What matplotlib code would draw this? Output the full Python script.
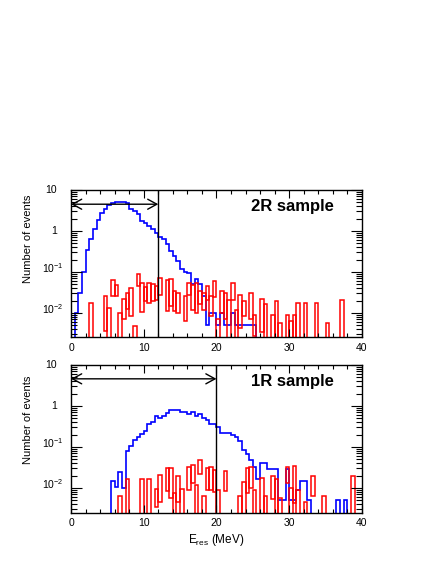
import numpy as np
import matplotlib
matplotlib.use('Agg')
import matplotlib.pyplot as plt
import matplotlib.transforms as mtransforms
from matplotlib.patches import Rectangle
from matplotlib.ticker import FixedLocator, LogLocator, MultipleLocator, NullFormatter

plt.rcParams['font.family'] = ['Liberation Sans', 'DejaVu Sans']
plt.rcParams['mathtext.fontset'] = 'custom'
plt.rcParams['mathtext.rm'] = 'Liberation Sans'
plt.rcParams['mathtext.it'] = 'Liberation Sans:italic'
plt.rcParams['mathtext.default'] = 'regular'

# 0.5 MeV bins from 0 to 40 MeV
bin_edges = np.arange(0, 40.5, 0.5)

# 2R sample: signal (blue) and background band edges (red)
blue_2r = [0, 0.01, 0.03, 0.1, 0.35, 0.63, 1.1, 1.9, 2.8, 3.5,
           4.2, 4.7, 5.0, 5.1, 5.0, 4.9, 3.5, 3.0, 2.6, 1.8,
           1.6, 1.35, 1.1, 0.9, 0.73, 0.62, 0.47, 0.33, 0.25, 0.18,
           0.12, 0.1, 0.096, 0.05, 0.068, 0.05, 0.026, 0.005, 0.01, 0.01,
           0.005, 0.01, 0.005, 0.005, 0.01, 0.005, 0.005, 0.005, 0.005, 0.005,
           0.005, 0, 0, 0, 0, 0, 0, 0, 0, 0,
           0, 0, 0, 0, 0, 0, 0, 0, 0, 0,
           0, 0, 0, 0, 0, 0, 0, 0, 0, 0]
red_hi_2r = [0, 0, 0, 0, 0, 0.017, 0, 0, 0, 0.026,
             0.013, 0.063, 0.049, 0.01, 0.022, 0.031, 0.041, 0.0049, 0.089, 0.054,
             0.043, 0.054, 0.052, 0.045, 0.072, 0, 0.063, 0.068, 0.034, 0.031,
             0, 0.026, 0.054, 0.049, 0.054, 0.034, 0.031, 0.046, 0.026, 0.059,
             0.0069, 0.034, 0.031, 0.021, 0.054, 0.012, 0.028, 0.019, 0, 0.031,
             0.009, 0, 0.022, 0.016, 0, 0.009, 0.020, 0.0057, 0, 0.009,
             0.0063, 0.009, 0.017, 0, 0.017, 0, 0, 0.017, 0, 0,
             0.0057, 0, 0, 0, 0.021, 0, 0, 0, 0, 0]
red_lo_2r = [0, 0, 0, 0, 0, 0, 0, 0, 0, 0.0036,
             0, 0.026, 0.026, 0, 0.007, 0.0126, 0.0083, 0, 0.045, 0.0105,
             0.019, 0.017, 0.019, 0.021, 0.028, 0, 0.011, 0.0145, 0.011, 0.010,
             0, 0.0063, 0.027, 0.012, 0.010, 0.016, 0.012, 0.021, 0.0083, 0.024,
             0, 0.010, 0.0069, 0, 0.021, 0, 0.0043, 0.0083, 0, 0.0069,
             0.0027, 0, 0.0035, 0, 0, 0, 0, 0, 0, 0,
             0, 0, 0, 0, 0, 0, 0, 0, 0, 0,
             0, 0, 0, 0, 0, 0, 0, 0, 0, 0]

# 1R sample
blue_1r = [0, 0, 0, 0, 0, 0, 0, 0, 0, 0,
           0, 0.015, 0.0105, 0.025, 0.01, 0.078, 0.107, 0.145, 0.175, 0.21,
           0.25, 0.37, 0.41, 0.56, 0.51, 0.58, 0.68, 0.78, 0.78, 0.78,
           0.72, 0.72, 0.64, 0.72, 0.58, 0.65, 0.51, 0.45, 0.37, 0.37,
           0.3, 0.22, 0.22, 0.22, 0.2, 0.175, 0.14, 0.086, 0.068, 0.049,
           0.032, 0.016, 0.04, 0.04, 0.029, 0.029, 0.029, 0.005, 0.005, 0.029,
           0.005, 0.005, 0.009, 0.0144, 0.0144, 0.005, 0, 0, 0, 0,
           0, 0, 0, 0.005, 0, 0.005, 0, 0, 0, 0]
red_hi_1r = [0, 0, 0, 0, 0, 0, 0, 0, 0, 0,
             0, 0, 0, 0.0064, 0, 0.016, 0, 0, 0, 0.016,
             0, 0.016, 0, 0.0093, 0.021, 0, 0.030, 0.030, 0.0075, 0.019,
             0.0095, 0, 0.033, 0.036, 0.012, 0.049, 0.0062, 0.030, 0.032, 0.028,
             0.0089, 0, 0.026, 0, 0, 0, 0.0062, 0.014, 0.030, 0.032,
             0.0089, 0, 0.017, 0.0062, 0, 0.019, 0.016, 0.0058, 0, 0.033,
             0.010, 0.035, 0.009, 0, 0.0045, 0, 0.019, 0, 0, 0.0062,
             0, 0, 0, 0, 0, 0, 0, 0.019, 0, 0]
red_lo_1r = [0, 0, 0, 0, 0, 0, 0, 0, 0, 0,
             0, 0, 0, 0, 0, 0, 0, 0, 0, 0,
             0, 0, 0, 0.0035, 0.0046, 0, 0.0085, 0.0055, 0, 0.0045,
             0, 0, 0.0089, 0.013, 0, 0.022, 0, 0.0089, 0.0089, 0.008,
             0, 0, 0.0085, 0, 0, 0, 0, 0, 0.0075, 0.010,
             0, 0, 0, 0, 0, 0.0053, 0, 0, 0, 0.013,
             0, 0.0042, 0, 0, 0, 0, 0.0064, 0, 0, 0,
             0, 0, 0, 0, 0, 0, 0, 0, 0, 0]

cut_2r, cut_1r = 12, 20
arrow_2r, arrow_1r = 4.5, 4.6
ytick_vals = [0.01, 0.1, 1, 10]
ytick_text = ['$10^{-2}$', '$10^{-1}$', '1', '10']

fig = plt.figure(figsize=(4.36, 5.64), dpi=100)
ax_top = fig.add_axes([0.163, 0.4016, 0.667, 0.2615])
ax_bot = fig.add_axes([0.163, 0.0913, 0.667, 0.2615])


def draw_panel(ax, blue, red_lo, red_hi, cut, arrow_y, label, ylab_y):
    blue = np.array(blue, dtype=float)
    # empty bins drop below the visible range
    ax.stairs(np.where(blue > 0, blue, 1e-6), bin_edges, color='blue', lw=1.2, baseline=None)
    for i, (lo, hi) in enumerate(zip(red_lo, red_hi)):
        if hi <= 0:
            continue
        lo = lo if lo > 0 else 1e-6
        ax.add_patch(Rectangle((bin_edges[i], lo), 0.5, hi - lo, fill=False,
                               ec='red', lw=1.1))
    ax.set_yscale('log')
    ax.set_xlim(0, 40)
    ax.set_ylim(2.5e-3, 10)
    ax.axvline(cut, color='black', lw=1.0)
    ax.annotate('', xy=(0, arrow_y), xytext=(cut, arrow_y),
                arrowprops=dict(arrowstyle='<->,head_length=0.55,head_width=0.3',
                                color='black', lw=1.0, shrinkA=0, shrinkB=0,
                                mutation_scale=12))
    ax.xaxis.set_major_locator(MultipleLocator(10))
    ax.xaxis.set_minor_locator(MultipleLocator(2))
    ax.yaxis.set_major_locator(FixedLocator(ytick_vals))
    ax.yaxis.set_major_formatter(NullFormatter())
    ax.yaxis.set_minor_locator(LogLocator(base=10, subs=np.arange(2, 10)))
    ax.yaxis.set_minor_formatter(NullFormatter())
    ax.tick_params(which='both', direction='in', top=True, right=True, width=0.8)
    ax.tick_params(axis='x', which='major', length=6, labelsize=7.5, pad=4)
    ax.tick_params(axis='x', which='minor', length=3)
    ax.tick_params(axis='y', which='major', length=8)
    ax.tick_params(axis='y', which='minor', length=4)
    for s in ax.spines.values():
        s.set_linewidth(1.0)
    # y tick labels, ROOT style: exponent labels sit a little above their tick
    ytrans = ax.get_yaxis_transform()
    for v, t in zip(ytick_vals, ytick_text):
        if '^' in t:
            tr = ytrans + mtransforms.ScaledTranslation(0, 4 / 100, fig.dpi_scale_trans)
            ax.text(-0.027, v, t, transform=tr, ha='right', va='center', fontsize=7.5)
        else:
            ax.text(-0.048, v, t, transform=ytrans, ha='right', va='center', fontsize=7.5)
    ax.text(0.761, 0.885, label, transform=ax.transAxes, ha='center', va='center',
            fontsize=12, fontweight='bold')
    ax.text(-0.148, ylab_y, 'Number of events', transform=ax.transAxes, rotation=90,
            ha='center', va='top', fontsize=8)


draw_panel(ax_top, blue_2r, red_lo_2r, red_hi_2r, cut_2r, arrow_2r, '2R sample', 0.97)
draw_panel(ax_bot, blue_1r, red_lo_1r, red_hi_1r, cut_1r, arrow_1r, '1R sample', 0.93)

fig.text(216 / 436, 1 - 540 / 564, r'E$_{res}$ (MeV)', ha='center', va='center', fontsize=8.5)

fig.savefig('out.png', dpi=100, facecolor='white')
